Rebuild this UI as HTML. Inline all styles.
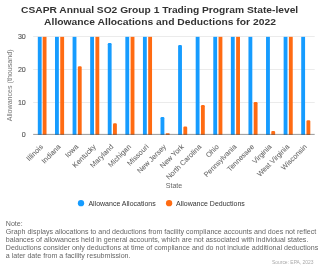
<!DOCTYPE html>
<html><head><meta charset="utf-8"><style>
html,body{margin:0;padding:0;background:#fff;width:320px;height:267px;overflow:hidden}
svg{display:block;will-change:transform}
text{font-family:"Liberation Sans",sans-serif}
.ax{font-size:7.1px;fill:#666}
.yl{font-size:7.1px;fill:#555;stroke:#555;stroke-width:0.12px}
.yt{font-size:7.1px;fill:#777}
.xl{font-size:7.22px;fill:#666;stroke:#666;stroke-width:0.06px}
.lg{font-size:7px;fill:#333}
.tt{font-size:9.9px;font-weight:bold;fill:#333}
.nt{font-size:7.09px;fill:#666}
.src{font-size:4.95px;fill:#aaa}
</style></head><body>
<svg width="320" height="267" viewBox="0 0 320 267">
<rect width="320" height="267" fill="#fff"/>
<line x1="33.17" y1="36.5" x2="314.7" y2="36.5" stroke="#ebebeb" stroke-width="1"/>
<line x1="33.17" y1="69.5" x2="314.7" y2="69.5" stroke="#ebebeb" stroke-width="1"/>
<line x1="33.17" y1="102.5" x2="314.7" y2="102.5" stroke="#ebebeb" stroke-width="1"/>
<rect x="37.81" y="36.85" width="3.85" height="98.05" fill="#169cff"/>
<rect x="42.66" y="36.85" width="3.85" height="98.05" fill="#ff6b12"/>
<rect x="55.00" y="36.85" width="3.85" height="98.05" fill="#169cff"/>
<rect x="60.25" y="36.85" width="3.85" height="98.05" fill="#ff6b12"/>
<rect x="72.59" y="36.85" width="3.85" height="98.05" fill="#169cff"/>
<path d="M77.84,134.90V67.40Q77.84,66.20 79.04,66.20H80.49Q81.69,66.20 81.69,67.40V134.90Z" fill="#ff6b12"/>
<rect x="90.17" y="36.85" width="3.85" height="98.05" fill="#169cff"/>
<rect x="95.42" y="36.85" width="3.85" height="98.05" fill="#ff6b12"/>
<path d="M107.76,134.90V44.30Q107.76,43.10 108.96,43.10H110.41Q111.61,43.10 111.61,44.30V134.90Z" fill="#169cff"/>
<path d="M113.01,134.90V124.40Q113.01,123.20 114.21,123.20H115.66Q116.86,123.20 116.86,124.40V134.90Z" fill="#ff6b12"/>
<rect x="125.35" y="36.85" width="3.85" height="98.05" fill="#169cff"/>
<rect x="130.60" y="36.85" width="3.85" height="98.05" fill="#ff6b12"/>
<rect x="142.94" y="36.85" width="3.85" height="98.05" fill="#169cff"/>
<rect x="148.19" y="36.85" width="3.85" height="98.05" fill="#ff6b12"/>
<path d="M160.52,134.90V118.30Q160.52,117.10 161.72,117.10H163.17Q164.37,117.10 164.37,118.30V134.90Z" fill="#169cff"/>
<path d="M165.77,134.90V133.85Q165.77,133.30 166.32,133.30H169.07Q169.62,133.30 169.62,133.85V134.90Z" fill="#ff6b12"/>
<path d="M178.11,134.90V46.20Q178.11,45.00 179.31,45.00H180.76Q181.96,45.00 181.96,46.20V134.90Z" fill="#169cff"/>
<path d="M183.36,134.90V127.80Q183.36,126.60 184.56,126.60H186.01Q187.21,126.60 187.21,127.80V134.90Z" fill="#ff6b12"/>
<rect x="195.70" y="36.85" width="3.85" height="98.05" fill="#169cff"/>
<path d="M200.95,134.90V106.20Q200.95,105.00 202.15,105.00H203.60Q204.80,105.00 204.80,106.20V134.90Z" fill="#ff6b12"/>
<rect x="213.28" y="36.85" width="3.85" height="98.05" fill="#169cff"/>
<rect x="218.53" y="36.85" width="3.85" height="98.05" fill="#ff6b12"/>
<rect x="230.87" y="36.85" width="3.85" height="98.05" fill="#169cff"/>
<rect x="236.12" y="36.85" width="3.85" height="98.05" fill="#ff6b12"/>
<rect x="248.46" y="36.85" width="3.85" height="98.05" fill="#169cff"/>
<path d="M253.71,134.90V103.30Q253.71,102.10 254.91,102.10H256.36Q257.56,102.10 257.56,103.30V134.90Z" fill="#ff6b12"/>
<rect x="266.04" y="36.85" width="3.85" height="98.05" fill="#169cff"/>
<path d="M271.29,134.90V132.10Q271.29,130.90 272.49,130.90H273.94Q275.14,130.90 275.14,132.10V134.90Z" fill="#ff6b12"/>
<rect x="283.63" y="36.85" width="3.85" height="98.05" fill="#169cff"/>
<rect x="288.88" y="36.85" width="3.85" height="98.05" fill="#ff6b12"/>
<rect x="301.22" y="36.85" width="3.85" height="98.05" fill="#169cff"/>
<path d="M306.47,134.90V121.40Q306.47,120.20 307.67,120.20H309.12Q310.32,120.20 310.32,121.40V134.90Z" fill="#ff6b12"/>
<line x1="33.17" y1="134.4" x2="314.7" y2="134.4" stroke="#555" stroke-opacity="0.6" stroke-width="1"/>
<text x="25.8" y="39.00" text-anchor="end" class="yl">30</text>
<text x="25.8" y="72.00" text-anchor="end" class="yl">20</text>
<text x="25.8" y="105.00" text-anchor="end" class="yl">10</text>
<text x="25.8" y="137.00" text-anchor="end" class="yl">0</text>
<text transform="translate(12.2,85.4) rotate(-90)" text-anchor="middle" class="yt">Allowances (thousand)</text>
<text transform="translate(43.56,147.20) rotate(-45)" text-anchor="end" class="xl">Illinois</text>
<text transform="translate(61.15,147.20) rotate(-45)" text-anchor="end" class="xl">Indiana</text>
<text transform="translate(78.74,147.20) rotate(-45)" text-anchor="end" class="xl">Iowa</text>
<text transform="translate(96.32,147.20) rotate(-45)" text-anchor="end" class="xl">Kentucky</text>
<text transform="translate(113.91,147.20) rotate(-45)" text-anchor="end" class="xl">Maryland</text>
<text transform="translate(131.50,147.20) rotate(-45)" text-anchor="end" class="xl">Michigan</text>
<text transform="translate(149.09,147.20) rotate(-45)" text-anchor="end" class="xl">Missouri</text>
<text transform="translate(166.67,147.20) rotate(-45)" text-anchor="end" class="xl">New Jersey</text>
<text transform="translate(184.26,147.20) rotate(-45)" text-anchor="end" class="xl">New York</text>
<text transform="translate(201.85,147.20) rotate(-45)" text-anchor="end" class="xl">North Carolina</text>
<text transform="translate(219.43,147.20) rotate(-45)" text-anchor="end" class="xl">Ohio</text>
<text transform="translate(237.02,147.20) rotate(-45)" text-anchor="end" class="xl">Pennsylvania</text>
<text transform="translate(254.61,147.20) rotate(-45)" text-anchor="end" class="xl">Tennessee</text>
<text transform="translate(272.19,147.20) rotate(-45)" text-anchor="end" class="xl">Virginia</text>
<text transform="translate(289.78,147.20) rotate(-45)" text-anchor="end" class="xl">West Virginia</text>
<text transform="translate(307.37,147.20) rotate(-45)" text-anchor="end" class="xl">Wisconsin</text>
<text x="174" y="188.1" text-anchor="middle" class="ax">State</text>
<circle cx="81" cy="203.2" r="3.15" fill="#169cff"/>
<text x="88.4" y="205.9" class="lg">Allowance Allocations</text>
<circle cx="169.1" cy="203.2" r="3.15" fill="#ff6b12"/>
<text x="176" y="205.9" class="lg">Allowance Deductions</text>
<text transform="translate(159.6,13.4) scale(1.035,1)" text-anchor="middle" class="tt">CSAPR Annual SO2 Group 1 Trading Program State-level</text>
<text transform="translate(160,24.7) scale(1.04328,1)" text-anchor="middle" class="tt">Allowance Allocations and Deductions for 2022</text>
<text x="5.8" y="225.80" class="nt">Note:</text>
<text x="5.8" y="233.80" class="nt">Graph displays allocations to and deductions from facility compliance accounts and does not reflect</text>
<text x="5.8" y="241.80" class="nt">balances of allowances held in general accounts, which are not associated with individual states.</text>
<text x="5.8" y="249.80" class="nt">Deductions consider only deductions at time of compliance and do not include additional deductions</text>
<text x="5.8" y="257.80" class="nt">a later date from a facility resubmission.</text>
<text x="313.6" y="263.7" text-anchor="end" class="src">Source: EPA, 2023</text>
</svg>
</body></html>
